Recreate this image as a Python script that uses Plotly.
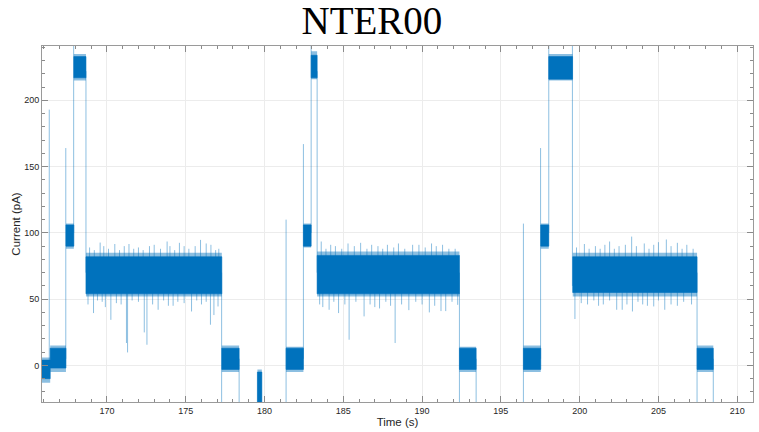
import plotly.graph_objects as go

# Current trace, summarised as dwell levels: start/end time (s), dense noise core and
# outer noise envelope (pA).
seg_t0 = [165.88, 166.40, 167.40, 167.90, 168.67, 177.29, 179.55, 181.37, 182.47,
          182.96, 183.34, 192.37, 196.43, 197.53, 198.04, 199.56, 207.45]
seg_t1 = [166.40, 167.40, 167.90, 168.67, 177.29, 178.39, 179.83, 182.47, 182.96,
          183.34, 192.37, 193.43, 197.53, 198.04, 199.55, 207.45, 208.48]
core_lo = [-10, -2, 90, 217, 54, -3, -40, -3, 90, 217, 54, -3, -3, 90, 216, 55, -3]
core_hi = [4, 13, 106, 233, 82, 13, -5, 13, 106, 234, 83, 13, 13, 106, 233, 82, 13]
env_lo = [-13, -5, 88, 215, 52, -5, -40, -5, 89, 216, 52, -5, -5, 88, 215, 52, -5]
env_hi = [6, 15, 107, 235, 85, 15, -3, 14, 107, 237, 86, 14, 15, 107, 235, 85, 15]

# Isolated noise spikes (time s, peak current pA)
spike_t = [
    # first long dwell, upward then downward
    168.90, 169.20, 169.57, 169.80, 170.10, 170.50, 170.80, 171.10, 171.40, 171.70,
    172.00, 172.30, 172.70, 173.00, 173.40, 173.82, 174.00, 174.30, 174.60, 174.90,
    175.20, 175.60, 175.94, 176.30, 176.60, 176.90, 177.10,
    168.80, 169.15, 169.40, 169.70, 169.90, 170.25, 170.60, 170.90, 171.24, 171.31,
    171.60, 172.00, 172.37, 172.54, 172.90, 173.25, 173.60, 173.90, 174.20, 174.50,
    174.90, 175.37, 175.70, 176.00, 176.30, 176.57, 176.79, 177.05,
    # second long dwell
    183.60, 183.90, 184.20, 184.50, 184.90, 185.30, 185.70, 186.10, 186.50, 186.80,
    187.20, 187.50, 187.80, 188.20, 188.50, 188.90, 189.40, 189.80, 190.20, 190.60,
    190.90, 191.30, 191.70, 192.10,
    183.50, 183.70, 184.10, 184.40, 184.70, 185.10, 185.37, 185.80, 186.32, 186.70,
    187.00, 187.30, 187.70, 188.00, 188.29, 188.70, 189.16, 189.60, 190.00, 190.46,
    190.80, 191.20, 191.50, 191.90, 192.26,
    # third long dwell
    199.80, 200.30, 200.60, 201.00, 201.30, 201.60, 201.90, 202.20, 202.50, 202.90,
    203.30, 203.60, 204.10, 204.40, 204.70, 205.00, 205.50, 205.80, 206.20, 206.50,
    206.80, 207.20,
    199.70, 200.10, 200.50, 200.90, 201.20, 201.50, 201.90, 202.35, 202.70, 203.00,
    203.35, 203.70, 204.00, 204.30, 204.70, 205.00, 205.40, 205.80, 206.20, 206.60,
    207.10]
spike_v = [
    89, 87, 92.7, 90, 88, 91.6, 87, 90, 91.6, 88,
    89, 87, 90, 91, 88, 93.5, 90, 87, 92.5, 90,
    88, 90, 94.7, 92, 91, 87, 88,
    46, 39.5, 49, 48, 44, 34.4, 47, 46, 16.9, 9.8,
    49, 48, 24.9, 15.6, 46, 42, 49, 45, 45, 48,
    47, 40.7, 49, 46, 48, 30.7, 38, 44.5,
    93.5, 88, 91, 90, 88, 92, 90, 92.5, 88, 91,
    90, 88, 91, 89, 92, 88, 91, 91, 89, 92,
    90, 91, 88, 88,
    46, 44, 42, 48, 39.5, 46, 19.4, 48, 37, 46,
    44, 43, 48, 45, 16.9, 46, 41.7, 48, 46, 40,
    45, 41, 41, 48, 45.7,
    89, 91.6, 88, 90, 88, 91, 93.5, 88, 90, 91,
    97.2, 90, 92, 88, 91, 93, 95, 90, 92.5, 88,
    91, 88,
    35, 47, 46, 49, 45, 46, 49, 42, 42, 46,
    40.7, 48, 46, 45, 44.5, 49, 42, 46, 45, 48,
    46]

# Level transitions, including overshoots and off-scale excursions (time s, from pA, to pA)
jump_t = [166.34, 167.39, 167.89, 168.67, 177.28, 178.39, 181.37, 182.47, 182.96,
          183.34, 192.37, 193.43, 196.43, 197.52, 198.04, 199.54, 207.45, 208.48]
jump_from = [0, 5, 100, 70, 70, 5, -40, 5, 100, 70, 70, 5, -40, 5, 100, 60, 70, 5]
jump_to = [193, 164, 245, 222, -40, -40, 110, 167, 245, 222, -40, -40, 107, 164, 245, 245, -40, -40]

BLUE = "#0072BD"
LIGHT = "rgba(0,114,189,0.45)"
FONT = "Liberation Sans, Arial, sans-serif"


def boxes(t0, t1, lo, hi):
    xs, ys = [], []
    for a, b, l, h in zip(t0, t1, lo, hi):
        xs += [a, b, b, a, a, None]
        ys += [l, l, h, h, l, None]
    return xs, ys


def level_at(t):
    for a, b, l, h in zip(seg_t0, seg_t1, core_lo, core_hi):
        if a <= t <= b:
            return (l + h) / 2
    return 0


fig = go.Figure()

ex, ey = boxes(seg_t0, seg_t1, env_lo, env_hi)
fig.add_trace(go.Scatter(x=ex, y=ey, mode="lines", fill="toself", fillcolor=LIGHT,
                         line=dict(width=0), hoverinfo="skip", showlegend=False))

sx, sy = [], []
for t, v in zip(spike_t, spike_v):
    sx += [t, t, None]
    sy += [level_at(t), v, None]
for t, a, b in zip(jump_t, jump_from, jump_to):
    sx += [t, t, None]
    sy += [a, b, None]
fig.add_trace(go.Scatter(x=sx, y=sy, mode="lines", line=dict(color=LIGHT, width=1),
                         hoverinfo="skip", showlegend=False))

cx, cy = boxes(seg_t0, seg_t1, core_lo, core_hi)
fig.add_trace(go.Scatter(x=cx, y=cy, mode="lines", fill="toself", fillcolor=BLUE,
                         line=dict(width=0.6, color=BLUE), hoverinfo="skip", showlegend=False))

axis_common = dict(
    showline=True, linecolor="#9a9a9a", linewidth=1, mirror="ticks",
    ticks="inside", ticklen=6, tickcolor="#8a8a8a", tickwidth=1,
    showgrid=True, gridcolor="#ececec", gridwidth=1, zeroline=False,
    tickfont=dict(family=FONT, size=9, color="#262626"),
    title_font=dict(family=FONT, size=11.5, color="#262626"),
)

fig.update_layout(
    width=759, height=432,
    margin=dict(l=42, r=6, t=46, b=30),
    paper_bgcolor="white", plot_bgcolor="white",
    title=dict(text="NTER00", x=0.49, xanchor="center", y=0.953, yanchor="middle",
               font=dict(family="Liberation Serif, Times New Roman, serif", size=39, color="black")),
    xaxis=dict(range=[165.88, 211.0], tickmode="array",
               tickvals=[170, 175, 180, 185, 190, 195, 200, 205, 210],
               title=dict(text="Time (s)", standoff=3),
               minor=dict(dtick=1, ticklen=3, ticks="inside", tickcolor="#8a8a8a", showgrid=False),
               **axis_common),
    yaxis=dict(range=[-27.6, 241.0], tickmode="array", tickvals=[0, 50, 100, 150, 200],
               title=dict(text="Current (pA)", standoff=1),
               minor=dict(dtick=10, ticklen=3, ticks="inside", tickcolor="#8a8a8a", showgrid=False),
               **axis_common),
)

fig.write_html("out.html")
